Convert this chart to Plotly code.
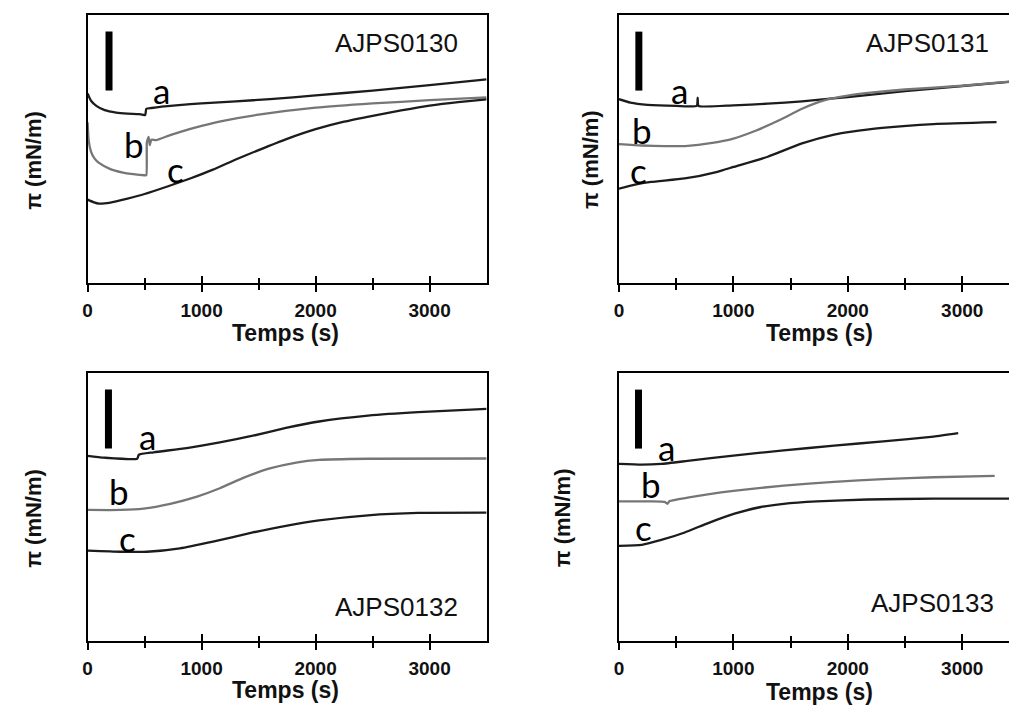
import plotly.graph_objects as go

W, H = 1009, 706

# ---------------- data (surface pressure, arbitrary offset units) ----------------
# AJPS0130
T_A_0130 = [0, 30, 80, 150, 250, 350, 450, 505, 515, 560, 650, 800, 1000, 1300, 1600, 2000, 2500, 3000, 3500]
PI_A_0130 = [70.7, 68.0, 66.0, 64.5, 63.6, 63.2, 63.0, 62.7, 65.0, 65.3, 65.8, 66.4, 67.0, 67.8, 68.6, 70.0, 71.8, 73.8, 76.0]
T_B_0130 = [0, 10, 30, 60, 100, 200, 300, 400, 500, 515, 520, 535, 545, 560, 600, 700, 800, 1000, 1200, 1500, 2000, 2500, 3000, 3500]
PI_B_0130 = [60.0, 53.0, 49.0, 46.5, 44.8, 42.5, 41.3, 40.6, 40.2, 40.2, 52.5, 54.5, 51.5, 53.5, 53.3, 54.8, 56.2, 58.6, 60.6, 62.8, 65.4, 67.0, 68.2, 69.3]
T_C_0130 = [0, 50, 100, 200, 350, 500, 700, 900, 1100, 1300, 1500, 1750, 2000, 2250, 2500, 2750, 3000, 3250, 3500]
PI_C_0130 = [31.1, 30.2, 29.6, 30.0, 31.5, 33.2, 36.0, 39.0, 42.3, 46.1, 49.6, 53.8, 57.4, 60.2, 62.4, 64.4, 66.2, 67.5, 68.5]

# AJPS0131
T_A_0131 = [0, 100, 250, 500, 680, 688, 696, 1000, 1300, 1600, 2000, 2500, 3000, 3500]
PI_A_0131 = [68.6, 67.3, 66.5, 66.1, 66.1, 69.2, 66.1, 66.3, 66.9, 67.8, 69.4, 71.6, 73.5, 75.4]
T_B_0131 = [0, 200, 400, 600, 800, 1000, 1200, 1400, 1600, 1800, 2000, 2200, 2500, 3000, 3500]
PI_B_0131 = [51.8, 51.3, 51.1, 51.2, 52.2, 53.9, 56.9, 60.7, 65.0, 68.2, 69.9, 71.0, 72.2, 73.6, 75.5]
T_C_0131 = [0, 140, 280, 575, 860, 1000, 1300, 1600, 1880, 2020, 2300, 2750, 3300]
PI_C_0131 = [35.2, 36.7, 37.7, 39.0, 41.5, 43.3, 47.1, 52.1, 55.4, 56.4, 57.9, 59.3, 60.0]

# AJPS0132
T_A_0132 = [0, 145, 435, 450, 580, 870, 1160, 1450, 1740, 2030, 2460, 2900, 3500]
PI_A_0132 = [69.1, 68.4, 68.0, 69.5, 70.4, 72.0, 74.1, 76.6, 79.5, 81.9, 84.1, 85.4, 86.6]
T_B_0132 = [0, 290, 490, 725, 960, 1160, 1360, 1590, 1830, 2030, 2460, 3500]
PI_B_0132 = [48.9, 48.9, 49.4, 51.2, 53.9, 57.0, 60.8, 64.3, 66.6, 67.6, 68.0, 68.1]
T_C_0132 = [0, 290, 520, 810, 1100, 1450, 1740, 2030, 2460, 2900, 3500]
PI_C_0132 = [33.7, 33.3, 33.3, 34.6, 37.1, 40.5, 43.0, 45.0, 46.9, 47.8, 47.9]

# AJPS0133
T_A_0133 = [0, 200, 370, 600, 1000, 1440, 1880, 2310, 2750, 2965]
PI_A_0133 = [66.1, 65.8, 66.1, 67.2, 69.2, 71.1, 72.9, 74.5, 76.3, 77.6]
T_B_0133 = [0, 280, 400, 423, 443, 600, 1000, 1440, 1880, 2310, 2750, 3284]
PI_B_0133 = [52.1, 52.1, 51.9, 51.2, 52.2, 53.5, 56.0, 58.0, 59.4, 60.4, 61.1, 61.6]
T_C_0133 = [0, 200, 370, 575, 780, 1010, 1240, 1440, 1730, 2170, 2750, 3500]
PI_C_0133 = [35.5, 35.9, 37.7, 40.5, 44.0, 47.5, 50.0, 51.2, 52.1, 52.8, 53.1, 53.1]

# scale bar (vertical reference segment) in each panel
SCALE_BAR_T = [188, 174, 183, 171]
SCALE_BAR_PI = [71.8, 93.8]

PANEL_NAMES = ["AJPS0130", "AJPS0131", "AJPS0132", "AJPS0133"]
CURVE_LABELS = ["a", "b", "c"]
X_TICKS = [0, 1000, 2000, 3000]
X_TICK_LABELS = ["0", "1000", "2000", "3000"]
X_MINOR_TICKS = [500, 1500, 2500]
X_TITLE = "Temps (s)"
Y_TITLE = "\u03c0 (mN/m)"

# ---------------- layout helpers ----------------
def px(x):
    return x / W

def py(y):
    return 1 - y / H

DARK = "#1c1c1c"
GREY = "#767676"
COLORS = [DARK, GREY, DARK]

panels = [
    dict(series=[(T_A_0130, PI_A_0130), (T_B_0130, PI_B_0130), (T_C_0130, PI_C_0130)],
         xdom=[px(83), px(484)], ydom=[py(283), py(15)], xrange=[0, 3500], mirror_y=True,
         name_pos=(393, 43), xt_pos=(282, 333), yt_pos=(28, 160),
         lab_pos=[(157, 90), (130, 144), (171, 169)]),
    dict(series=[(T_A_0131, PI_A_0131), (T_B_0131, PI_B_0131), (T_C_0131, PI_C_0131)],
         xdom=[px(617), 1.0], ydom=[py(283), py(15)], xrange=[0, 3409], mirror_y=False,
         name_pos=(927, 43), xt_pos=(819, 333), yt_pos=(588, 160),
         lab_pos=[(678, 90), (640, 130), (637, 170)]),
    dict(series=[(T_A_0132, PI_A_0132), (T_B_0132, PI_B_0132), (T_C_0132, PI_C_0132)],
         xdom=[px(83), px(484)], ydom=[py(641), py(373)], xrange=[0, 3500], mirror_y=True,
         name_pos=(393, 607), xt_pos=(282, 690), yt_pos=(28, 518),
         lab_pos=[(143, 436), (115, 491), (123, 538)]),
    dict(series=[(T_A_0133, PI_A_0133), (T_B_0133, PI_B_0133), (T_C_0133, PI_C_0133)],
         xdom=[px(617), 1.0], ydom=[py(641), py(373)], xrange=[0, 3409], mirror_y=False,
         name_pos=(932, 603), xt_pos=(819, 692), yt_pos=(560, 518),
         lab_pos=[(665, 447), (649, 484), (642, 527)]),
]

fig = go.Figure()
layout = dict(
    width=W, height=H, margin=dict(l=0, r=0, t=0, b=0),
    paper_bgcolor="white", plot_bgcolor="white", showlegend=False,
)
annotations = []

ARIAL = "Liberation Sans, Arial, sans-serif"
TICKFONT = dict(family=ARIAL, size=19, color="#111", weight="bold")

for i, p in enumerate(panels):
    n = i + 1
    xa = "x" if n == 1 else f"x{n}"
    ya = "y" if n == 1 else f"y{n}"
    ov = 4 + n  # overlay axis index for inside ticks
    for (t, v), col in zip(p["series"], COLORS):
        fig.add_trace(go.Scatter(x=t, y=v, mode="lines", xaxis=xa, yaxis=ya,
                                 line=dict(color=col, width=2.3, shape="spline", smoothing=0.5),
                                 hoverinfo="skip"))
    fig.add_trace(go.Scatter(x=[SCALE_BAR_T[i], SCALE_BAR_T[i]], y=SCALE_BAR_PI, mode="lines",
                             xaxis=xa, yaxis=ya, line=dict(color="#000", width=7), hoverinfo="skip"))
    # empty trace on the overlay axis (inside half of the crossing ticks)
    fig.add_trace(go.Scatter(x=[None], y=[None], mode="lines", xaxis=f"x{ov}", yaxis=ya,
                             hoverinfo="skip"))

    layout["xaxis" if n == 1 else f"xaxis{n}"] = dict(
        domain=p["xdom"], anchor=ya, range=p["xrange"], showgrid=False, zeroline=False,
        showline=True, linecolor="#000", linewidth=2, mirror=True,
        ticks="outside", ticklen=7, tickwidth=2, tickcolor="#000",
        tickvals=X_TICKS, ticktext=X_TICK_LABELS, tickfont=TICKFONT, ticklabelstandoff=2,
        minor=dict(tickvals=X_MINOR_TICKS, ticks="outside", ticklen=5, tickwidth=2, tickcolor="#000"),
    )
    layout[f"xaxis{ov}"] = dict(
        overlaying=xa, anchor=ya, range=p["xrange"], showgrid=False, zeroline=False,
        showline=False, ticks="inside", ticklen=7, tickwidth=2, tickcolor="#000",
        tickvals=X_TICKS, showticklabels=False,
        minor=dict(tickvals=X_MINOR_TICKS, ticks="inside", ticklen=5, tickwidth=2, tickcolor="#000"),
    )
    layout["yaxis" if n == 1 else f"yaxis{n}"] = dict(
        domain=p["ydom"], anchor=xa, range=[0, 100], showgrid=False, zeroline=False,
        showline=True, linecolor="#000", linewidth=2, mirror=p["mirror_y"],
        ticks="", showticklabels=False,
    )

    annotations.append(dict(text=PANEL_NAMES[i], x=px(p["name_pos"][0]), y=py(p["name_pos"][1]),
                            xref="paper", yref="paper", showarrow=False, xanchor="center", yanchor="middle",
                            font=dict(family=ARIAL, size=26, color="#111")))
    annotations.append(dict(text=X_TITLE, x=px(p["xt_pos"][0]), y=py(p["xt_pos"][1]),
                            xref="paper", yref="paper", showarrow=False, xanchor="center", yanchor="middle",
                            font=dict(family=ARIAL, size=23, color="#111", weight="bold")))
    annotations.append(dict(text=Y_TITLE, x=px(p["yt_pos"][0]), y=py(p["yt_pos"][1]), textangle=-90,
                            xref="paper", yref="paper", showarrow=False, xanchor="center", yanchor="middle",
                            font=dict(family=ARIAL, size=22, color="#111", weight="bold")))
    for lab, (lx, ly) in zip(CURVE_LABELS, p["lab_pos"]):
        annotations.append(dict(text=lab, x=px(lx), y=py(ly), xref="paper", yref="paper",
                                showarrow=False, xanchor="center", yanchor="middle",
                                font=dict(family="Lato, Open Sans, sans-serif", size=35, color="#000")))

layout["annotations"] = annotations
fig.update_layout(**layout)
fig.write_html("out.html", config={"displayModeBar": False},
               post_script="document.body.style.margin='0';document.body.style.overflow='hidden';")
